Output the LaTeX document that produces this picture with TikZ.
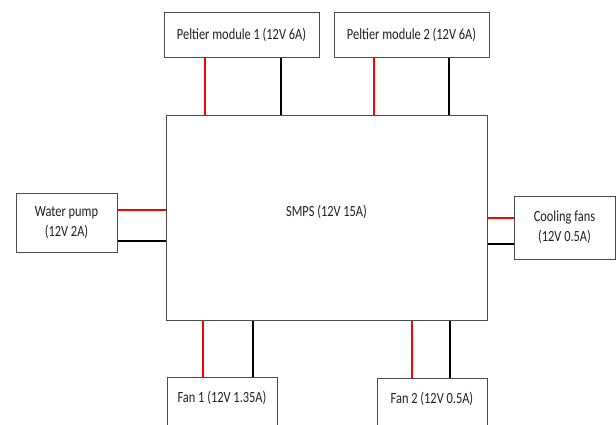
\documentclass[tikz,border=0pt]{standalone}
\usepackage{fontspec}
\setmainfont{Carlito}[FakeStretch=0.8]
\usetikzlibrary{positioning}

\begin{document}
\begin{tikzpicture}[x=1pt, y=-1pt, every node/.style={font=\fontsize{15.5}{20}\selectfont, text=black!88},
		box/.style={draw=black!70, line width=1pt, inner sep=0pt, align=center},
		redwire/.style={draw=red, line width=1.8pt},
		blackwire/.style={draw=black, line width=1.8pt}]
	% 0. 画布大小
	\useasboundingbox (0,0) rectangle (616,425);
	
	% 1. 电源与负载方框
	\node[box, minimum width=321pt, minimum height=204pt] (smps) at (326.5,218) {};
	\node (smpstxt) at ([yshift=6pt]smps.center) {SMPS (12V 15A)};
	\node[box, minimum width=155pt, minimum height=45pt] (pelt1) at (241.5,35) {Peltier module 1 (12V 6A)};
	\node[box, minimum width=155pt, minimum height=45pt] (pelt2) at (411.5,35) {Peltier module 2 (12V 6A)};
	\node[box, minimum width=101pt, minimum height=59pt] (pump) at (66.5,222.5) {Water pump\\(12V 2A)};
	\node[box, minimum width=101pt, minimum height=63pt] (cool) at (564.5,227.5) {Cooling fans\\(12V 0.5A)};
	\node[box, anchor=north, minimum width=110pt, minimum height=70pt] (fan1) at (222,377) {};
	\node (fan1txt) at ([yshift=-21pt]fan1.north) {Fan 1 (12V 1.35A)};
	\node[box, anchor=north, minimum width=110pt, minimum height=70pt] (fan2) at (432,378) {};
	\node (fan2txt) at ([yshift=-21pt]fan2.north) {Fan 2 (12V 0.5A)};
	
	% 2. 上方连线 (红 = 正, 黑 = 负)
	\draw[redwire] ([xshift=-36.5pt]pelt1.south) -- ([xshift=-36.5pt]pelt1.south |- smps.north);
	\draw[blackwire] ([xshift=39.5pt]pelt1.south) -- ([xshift=39.5pt]pelt1.south |- smps.north);
	\draw[redwire] ([xshift=-37.5pt]pelt2.south) -- ([xshift=-37.5pt]pelt2.south |- smps.north);
	\draw[blackwire] ([xshift=37.5pt]pelt2.south) -- ([xshift=37.5pt]pelt2.south |- smps.north);
	
	% 3. 左右连线
	\draw[redwire] ([yshift=12.5pt]pump.east) -- ([yshift=12.5pt]pump.east -| smps.west);
	\draw[blackwire] ([yshift=-18.5pt]pump.east) -- ([yshift=-18.5pt]pump.east -| smps.west);
	\draw[redwire] ([yshift=9.5pt]cool.west) -- ([yshift=9.5pt]cool.west -| smps.east);
	\draw[blackwire] ([yshift=-16.5pt]cool.west) -- ([yshift=-16.5pt]cool.west -| smps.east);
	
	% 4. 下方连线
	\draw[redwire] ([xshift=-19pt]fan1.north) -- ([xshift=-19pt]fan1.north |- smps.south);
	\draw[blackwire] ([xshift=31pt]fan1.north) -- ([xshift=31pt]fan1.north |- smps.south);
	\draw[redwire] ([xshift=-20pt]fan2.north) -- ([xshift=-20pt]fan2.north |- smps.south);
	\draw[blackwire] ([xshift=18pt]fan2.north) -- ([xshift=18pt]fan2.north |- smps.south);
\end{tikzpicture}
\end{document}
